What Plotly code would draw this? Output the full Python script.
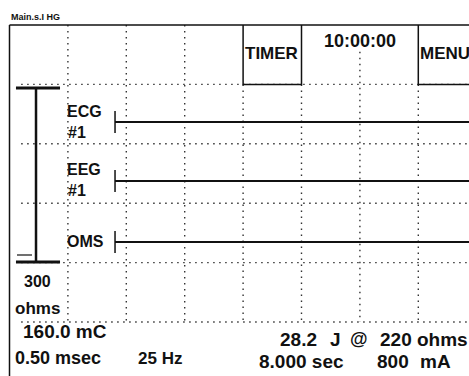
import plotly.graph_objects as go

# ---- data (grid divisions) ----
grid_cols = [1, 2, 3, 4, 5, 6, 7]
grid_rows = [1, 2, 3, 4, 5]
channel_names = ["ECG<br>#1", "EEG<br>#1", "OMS"]
channel_levels = [1.633, 2.626, 3.653]
channel_values = [[0.0, 0.0], [0.0, 0.0], [0.0, 0.0]]   # flat traces
trace_x = [1.807, 8.0]
marker_half = 0.185
scale_x = 0.454
scale_top = 1.061
scale_bottom = 3.99
scale_cap = [0.111, 0.865]
scale_tick_y = 3.872
scale_tick_x = [0.128, 0.385]
scale_label = ["300", "ohms"]
timer_text = "10:00:00"
readouts = {
    "charge": "160.0 mC", "pulse": "0.50 msec", "freq": "25 Hz",
    "energy": "28.2", "energy_unit": "J", "at": "@", "imp": "220 ohms",
    "dur": "8.000 sec", "cur": "800", "cur_unit": "mA",
}

W, H = 469, 376
FONT = "Liberation Sans, Arial, sans-serif"
INK = "#111111"
DOT = "#333333"

fig = go.Figure()


def seg_trace(xs, ys, width, color, dash="solid"):
    fig.add_trace(go.Scatter(x=xs, y=ys, mode="lines", hoverinfo="skip",
                             line=dict(color=color, width=width, dash=dash),
                             showlegend=False))


# dotted grid
vx, vy = [], []
for c in grid_cols:
    y0 = 0.45 if c == 6 else (1 if c in (4, 5, 7) else 0)
    vx += [c, c, None]
    vy += [y0, 5, None]
hx, hy = [], []
for r in grid_rows:
    hx += [0.2, 8.0, None]
    hy += [r, r, None]
seg_trace(vx, vy, 1.4, DOT, "1.5px,4.5px")
seg_trace(hx, hy, 1.4, DOT, "1.5px,4.5px")

# frame and boxes (solid)
fx = [0, 8.0, None, 0, 0, None, 4, 4, 5, 5, None, 7, 7, 8.0]
fy = [0, 0, None, 0, 6.2, None, 0, 1, 1, 0, None, 0, 1, 1]
seg_trace(fx, fy, 1.5, INK)

# scale bar
seg_trace([scale_x, scale_x], [scale_top, scale_bottom], 2.5, INK)
seg_trace([scale_cap[0], scale_cap[1], None, scale_cap[0], scale_cap[1]],
          [scale_top, scale_top, None, scale_bottom, scale_bottom], 3, INK)
seg_trace(scale_tick_x, [scale_tick_y, scale_tick_y], 1.2, INK)

# channel traces
for lvl, vals in zip(channel_levels, channel_values):
    seg_trace(trace_x, [lvl + v for v in vals], 2, INK)
    seg_trace([trace_x[0], trace_x[0]], [lvl - marker_half, lvl + marker_half], 1.5, INK)

ann = []


def txt(s, px, py, size, anchor="left", family=FONT):
    ann.append(dict(text="<b>" + s + "</b>", x=px / W, y=1 - py / H,
                    xref="paper", yref="paper", xanchor=anchor, yanchor="middle",
                    showarrow=False, borderpad=0,
                    font=dict(family=family, size=size, color=INK)))


txt("Main.s.I HG", 10, 17, 9, family="Liberation Sans Narrow, Liberation Sans, Arial")
txt("TIMER", 271, 54, 17, "center")
txt(timer_text, 360, 41, 18, "center")
txt("MENU", 419, 53, 17)

label_y = [(111, 132), (169, 190), (241.5, None)]
for name, (y1, y2) in zip(channel_names, label_y):
    parts = name.split("<br>")
    txt(parts[0], 66, y1, 16)
    if y2 is not None:
        txt(parts[1], 67, y2, 16)

txt(scale_label[0], 37, 281, 16, "center")
txt(scale_label[1], 37, 308, 17, "center")

txt(readouts["charge"], 22, 331, 19)
txt(readouts["pulse"], 14, 358, 18)
txt(readouts["freq"], 137, 358, 17)
txt(readouts["energy"], 279, 339, 19)
txt(readouts["energy_unit"], 329, 339, 19)
txt(readouts["at"], 349, 339, 18)
txt(readouts["imp"], 379, 339, 19)
txt(readouts["dur"], 258, 361, 19)
txt(readouts["cur"], 376, 361, 19)
txt(readouts["cur_unit"], 419, 361, 19)

x0 = -9.5 / 58.4
x1 = (W - 9.5) / 58.4
y_top = -25 / 59.4
y_bot = (H - 25) / 59.4

fig.update_layout(
    width=W, height=H,
    margin=dict(l=0, r=0, t=0, b=0),
    paper_bgcolor="white", plot_bgcolor="white",
    xaxis=dict(range=[x0, x1], visible=False, fixedrange=True),
    yaxis=dict(range=[y_bot, y_top], visible=False, fixedrange=True),
    annotations=ann,
    showlegend=False,
)

fig.write_html("out.html", config={"displayModeBar": False},
               post_script="document.body.style.margin='0';document.body.style.overflow='hidden';")
